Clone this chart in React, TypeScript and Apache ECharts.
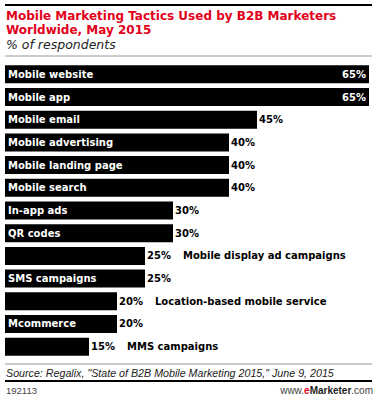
import React, { useEffect, useRef } from "react";
import * as echarts from "echarts";

const categories = [
  "Mobile website",
  "Mobile app",
  "Mobile email",
  "Mobile advertising",
  "Mobile landing page",
  "Mobile search",
  "In-app ads",
  "QR codes",
  "Mobile display ad campaigns",
  "SMS campaigns",
  "Location-based mobile service",
  "Mcommerce",
  "MMS campaigns",
];
const values = [65, 65, 45, 40, 40, 40, 30, 30, 25, 25, 20, 20, 15];
const nameInBar = [true, true, true, true, true, true, true, true, false, true, false, true, false];

const titleLines = ["Mobile Marketing Tactics Used by B2B Marketers", "Worldwide, May 2015"];
const subtitle = "% of respondents";
const source = 'Source: Regalix, "State of B2B Mobile Marketing 2015," June 9, 2015';
const chartId = "192113";

const RED = "#e2001a";
const FONT = "'DejaVu Sans', sans-serif";
const LIB = "'Liberation Sans', sans-serif";

export default function App() {
  const ref = useRef<HTMLDivElement>(null);
  useEffect(() => {
    if (!ref.current) return;
    const chart = echarts.init(ref.current, undefined, { renderer: "svg" });
    const maxV = 65;
    const valueData = values.map((v, i) => {
      const inside = v >= maxV;
      return {
        value: v,
        label: inside
          ? { position: "insideRight", distance: 3, color: "#fff", formatter: "{v|{c}%}" }
          : nameInBar[i]
          ? { position: "right", distance: 2, color: "#000", formatter: "{v|{c}%}" }
          : {
              position: "right",
              distance: 2,
              color: "#000",
              formatter: "{w|{c}%}{n|" + categories[i] + "}",
            },
      };
    });
    const nameData = values.map((v, i) => ({
      value: v,
      label: { show: nameInBar[i] },
    }));
    const labelFont = { fontFamily: FONT, fontWeight: "bold", fontSize: 10 };
    chart.setOption({
      animation: false,
      grid: { left: 5, right: 8, top: 63, bottom: 42 },
      xAxis: { type: "value", min: 0, max: maxV, show: false },
      yAxis: { type: "category", data: categories, inverse: true, show: false },
      series: [
        {
          type: "bar",
          data: valueData,
          barWidth: 18,
          itemStyle: { color: "#000" },
          label: {
            show: true,
            ...labelFont,
            rich: {
              v: { ...labelFont },
              w: { ...labelFont, width: 36 },
              n: { ...labelFont },
            },
          },
          z: 2,
        },
        {
          type: "bar",
          data: nameData,
          barWidth: 18,
          barGap: "-100%",
          itemStyle: { color: "rgba(0,0,0,0)" },
          label: {
            show: true,
            position: "insideLeft",
            distance: 3,
            color: "#fff",
            ...labelFont,
            formatter: (p: any) => categories[p.dataIndex],
          },
          z: 3,
        },
      ],
      graphic: [
        { type: "rect", shape: { x: 5, y: 4, width: 367, height: 2 }, style: { fill: "#000" } },
        {
          type: "text",
          style: { x: 6, y: 15.5, text: titleLines[0], fill: RED, font: `bold 12px ${FONT}`, verticalAlign: "middle" },
        },
        {
          type: "text",
          style: { x: 6, y: 29.5, text: titleLines[1], fill: RED, font: `bold 12px ${FONT}`, verticalAlign: "middle" },
        },
        {
          type: "text",
          style: { x: 6, y: 44.5, text: subtitle, fill: "#222", font: `italic 12.5px ${FONT}`, verticalAlign: "middle" },
        },
        { type: "rect", shape: { x: 5, y: 55.5, width: 367, height: 1 }, style: { fill: "#999" } },
        { type: "rect", shape: { x: 5, y: 363.5, width: 367, height: 1 }, style: { fill: "#999" } },
        {
          type: "text",
          style: { x: 6, y: 373, text: source, fill: "#222", font: `italic 10.7px ${LIB}`, verticalAlign: "middle" },
        },
        { type: "rect", shape: { x: 5, y: 380, width: 367, height: 2 }, style: { fill: "#000" } },
        {
          type: "text",
          style: { x: 6, y: 390, text: chartId, fill: "#444", font: `9.5px ${LIB}`, verticalAlign: "middle" },
        },
        {
          type: "text",
          style: {
            x: 373,
            y: 390,
            text: "{a|www.}{e|e}{m|Marketer}{a|.com}",
            align: "right",
            verticalAlign: "middle",
            rich: {
              a: { fill: "#444", fontFamily: LIB, fontSize: 10 },
              e: { fill: RED, fontFamily: LIB, fontSize: 10, fontWeight: "bold" },
              m: { fill: "#222", fontFamily: LIB, fontSize: 10, fontWeight: "bold" },
            },
          },
        },
      ],
    });
    return () => chart.dispose();
  }, []);
  return <div ref={ref} style={{ width: 377, height: 400, position: "absolute", left: 0, top: 0 }} />;
}
